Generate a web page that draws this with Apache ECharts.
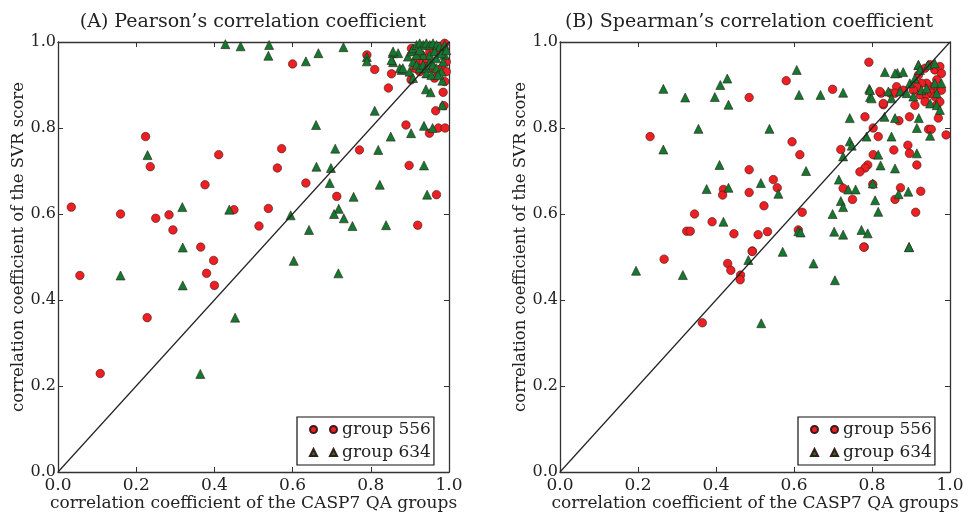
<!DOCTYPE html>
<html lang="en">
<head>
<meta charset="UTF-8">
<title>SVR score vs CASP7 QA groups</title>
<script src="https://cdn.jsdelivr.net/npm/echarts@6/dist/echarts.min.js"></script>
<style>
  html, body { margin: 0; padding: 0; background: #fff; }
  #chart { width: 972px; height: 513px; }
</style>
</head>
<body>
<div id="chart"></div>
<script type="text/javascript">
// (A) Pearson
var pearsonRed = [
    [0.034,0.616],[0.16,0.60],[0.224,0.78],[0.236,0.71],[0.25,0.59],[0.284,0.598],[0.294,0.563],
    [0.376,0.668],[0.411,0.738],[0.45,0.61],[0.514,0.572],[0.538,0.613],[0.561,0.707],[0.572,0.752],
    [0.60,0.949],[0.634,0.672],[0.713,0.641],[0.771,0.749],[0.79,0.97],[0.81,0.936],[0.845,0.893],
    [0.853,0.926],[0.89,0.807],[0.898,0.713],[0.92,0.574],[0.968,0.645],[0.95,0.788],[0.966,0.84],
    [0.985,0.883],[0.987,0.852],[0.973,0.80],[0.99,0.80],[0.903,0.912],
    [0.056,0.457],[0.108,0.229],[0.228,0.359],[0.365,0.523],[0.398,0.492],[0.38,0.462],[0.40,0.434],
    [0.904,0.985],[0.917,0.954],[0.934,0.954],[0.959,0.939],[0.972,0.931],[0.993,0.954],[0.976,0.978],
    [0.925,0.931],[0.981,0.939],[0.989,0.997],[0.951,0.978],[0.989,0.908],[0.942,0.962],[0.912,0.939],
    [0.963,0.916],[0.929,0.97],[0.993,0.931]
];
var pearsonGreen = [
    [0.428,0.995],[0.467,0.99],[0.54,0.993],[0.538,0.968],[0.634,0.955],[0.666,0.974],[0.73,0.988],
    [0.79,0.965],[0.79,0.955],[0.856,0.974],[0.87,0.974],[0.857,0.953],[0.879,0.935],[0.81,0.84],
    [0.66,0.807],[0.229,0.737],[0.318,0.616],[0.438,0.61],[0.595,0.597],[0.642,0.563],[0.661,0.71],
    [0.698,0.707],[0.709,0.752],[0.695,0.672],[0.718,0.612],[0.706,0.60],[0.731,0.59],[0.753,0.572],
    [0.756,0.64],[0.819,0.749],[0.823,0.668],[0.839,0.574],[0.851,0.78],[0.903,0.788],[0.936,0.805],
    [0.936,0.713],[0.944,0.645],[0.958,0.80],[0.941,0.89],[0.953,0.883],[0.983,0.91],[0.983,0.853],
    [0.16,0.457],[0.319,0.522],[0.319,0.434],[0.364,0.228],[0.453,0.359],[0.603,0.491],[0.717,0.462],
    [0.857,0.978],[0.853,0.958],[0.874,0.939],[0.882,0.939],[0.895,0.966],[0.904,0.978],[0.908,0.985],
    [0.917,0.993],[0.925,0.997],[0.934,0.993],[0.942,0.997],[0.951,0.993],[0.959,0.997],[0.968,0.993],
    [0.976,0.989],[0.908,0.954],[0.917,0.947],[0.925,0.939],[0.934,0.947],[0.942,0.939],[0.951,0.954],
    [0.959,0.947],[0.968,0.939],[0.981,0.931],[0.989,0.97],[0.985,0.954],[0.934,0.97],[0.951,0.97],
    [0.968,0.962],[0.942,0.927],[0.955,0.923],[0.972,0.923],[0.917,0.97],[0.925,0.981],[0.963,0.978],
    [0.981,0.974],[0.989,0.993],[0.993,0.981],[0.899,0.931],[0.908,0.916]
];

// (B) Spearman
var spearmanRed = [
    [0.231,0.78],[0.485,0.871],[0.58,0.91],[0.595,0.768],[0.615,0.738],[0.485,0.703],[0.547,0.68],
    [0.557,0.661],[0.419,0.657],[0.417,0.644],[0.485,0.65],[0.523,0.619],[0.345,0.60],[0.39,0.582],
    [0.325,0.56],[0.334,0.56],[0.446,0.554],[0.508,0.552],[0.532,0.559],[0.621,0.604],[0.611,0.563],
    [0.493,0.514],[0.699,0.89],[0.792,0.953],[0.72,0.75],[0.782,0.826],[0.803,0.80],[0.816,0.78],
    [0.823,0.881],[0.829,0.854],[0.847,0.881],[0.869,0.817],[0.896,0.826],[0.856,0.749],[0.892,0.76],
    [0.896,0.741],[0.915,0.714],[0.803,0.738],[0.789,0.714],[0.782,0.707],[0.769,0.698],[0.802,0.669],
    [0.726,0.66],[0.75,0.634],[0.859,0.634],[0.873,0.661],[0.925,0.653],[0.912,0.604],[0.99,0.784],
    [0.78,0.523],[0.945,0.797],[0.952,0.797],[0.966,0.854],[0.97,0.823],
    [0.267,0.495],[0.43,0.485],[0.438,0.469],[0.463,0.458],[0.462,0.447],[0.493,0.513],[0.365,0.347],
    [0.779,0.523],
    [0.919,0.923],[0.936,0.939],[0.949,0.947],[0.961,0.935],[0.974,0.943],[0.978,0.927],[0.966,0.912],
    [0.953,0.896],[0.94,0.904],[0.927,0.904],[0.914,0.896],[0.906,0.888],[0.923,0.877],[0.94,0.877],
    [0.953,0.881],[0.97,0.888],[0.961,0.873],[0.978,0.888],[0.936,0.861],[0.974,0.861],[0.82,0.885],
    [0.829,0.857],[0.863,0.896],[0.859,0.881],[0.88,0.888],[0.91,0.853]
];
var spearmanGreen = [
    [0.265,0.891],[0.265,0.75],[0.321,0.871],[0.355,0.798],[0.397,0.872],[0.411,0.90],[0.429,0.915],
    [0.432,0.854],[0.376,0.658],[0.409,0.714],[0.432,0.661],[0.419,0.582],[0.515,0.672],[0.537,0.798],
    [0.56,0.647],[0.607,0.935],[0.613,0.877],[0.631,0.70],[0.611,0.56],[0.617,0.557],[0.668,0.877],
    [0.726,0.882],[0.715,0.68],[0.699,0.60],[0.72,0.63],[0.726,0.616],[0.703,0.559],[0.726,0.552],
    [0.739,0.657],[0.758,0.657],[0.743,0.823],[0.743,0.769],[0.748,0.759],[0.726,0.734],[0.773,0.563],
    [0.789,0.555],[0.793,0.891],[0.795,0.872],[0.786,0.78],[0.808,0.632],[0.816,0.605],[0.816,0.738],
    [0.822,0.713],[0.802,0.671],[0.859,0.706],[0.85,0.78],[0.859,0.823],[0.832,0.826],[0.833,0.93],
    [0.865,0.928],[0.88,0.93],[0.868,0.646],[0.893,0.652],[0.895,0.523],[0.915,0.741],[0.919,0.946],
    [0.949,0.782],[0.915,0.80],[0.92,0.823],
    [0.195,0.468],[0.315,0.458],[0.483,0.493],[0.571,0.512],[0.65,0.485],[0.705,0.446],[0.516,0.346],
    [0.895,0.523],
    [0.859,0.927],[0.919,0.947],[0.944,0.947],[0.961,0.95],[0.795,0.888],[0.799,0.869],[0.842,0.885],
    [0.85,0.869],[0.872,0.885],[0.889,0.881],[0.906,0.873],[0.927,0.888],[0.94,0.892],[0.949,0.857],
    [0.961,0.904],[0.978,0.904],[0.966,0.853],[0.974,0.842],[0.923,0.935],[0.966,0.881],[0.897,0.904],
    [0.91,0.915]
];

var diagonal = [[0, 0], [1, 1]];
var tickInterval = 0.2;
var panelTitles = ["(A) Pearson\u2019s correlation coefficient", "(B) Spearman\u2019s correlation coefficient"];
var groupNames = ["group 556", "group 634"];
var xName = "correlation coefficient of the CASP7 QA groups";
var yName = "correlation coefficient of the SVR score";

var FONT = "DejaVu Serif";
var RED = "#ee1f23";
var GREEN = "#0f7a30";
var circlesIcon = "path://M0,3.5 A3.5,3.5 0 1,1 7,3.5 A3.5,3.5 0 1,1 0,3.5 Z M20,3.5 A3.5,3.5 0 1,1 27,3.5 A3.5,3.5 0 1,1 20,3.5 Z";
var trianglesIcon = "path://M0,7 L3.5,0 L7,7 Z M20,7 L23.5,0 L27,7 Z";

var grids = [
    {left: 58, top: 42, width: 391, height: 430, outerBoundsMode: 'none'},
    {left: 560, top: 42, width: 390, height: 430, outerBoundsMode: 'none'}
];

function mainAxis(gridIndex, isX) {
    return {
        type: 'value', gridIndex: gridIndex, min: 0, max: 1, interval: tickInterval,
        position: isX ? 'bottom' : 'left',
        name: isX ? xName : yName,
        nameLocation: 'middle',
        nameMoveOverlap: false,
        nameGap: isX ? 23 : 31,
        nameTextStyle: {
            fontFamily: FONT, fontSize: isX ? 17 : 16.5, color: '#222',
            padding: isX ? 0 : [0, 0, 0, 20]
        },
        axisLine: {show: true, onZero: false, lineStyle: {color: '#333', width: 1.3}},
        axisTick: {show: true, inside: true, length: 5, lineStyle: {color: '#333'}},
        axisLabel: {
            fontFamily: FONT, fontSize: isX ? 17 : 16, color: '#222', margin: isX ? 5 : 2,
            formatter: function (v) { return v.toFixed(1); }
        },
        splitLine: {show: false}
    };
}

function mirrorAxis(gridIndex, isX) {
    return {
        type: 'value', gridIndex: gridIndex, min: 0, max: 1, interval: tickInterval,
        position: isX ? 'top' : 'right',
        axisLine: {show: true, onZero: false, lineStyle: {color: '#333', width: 1.3}},
        axisTick: {show: true, inside: true, length: 5, lineStyle: {color: '#333'}},
        axisLabel: {show: false},
        splitLine: {show: false}
    };
}

function legendFor(left) {
    return {
        left: left, top: 417, orient: 'vertical',
        backgroundColor: '#fff', borderColor: '#111', borderWidth: 1.2, borderRadius: 0,
        padding: [4, 3, 4, 12], itemGap: 6, itemWidth: 27, itemHeight: 7,
        selectedMode: false,
        textStyle: {fontFamily: FONT, fontSize: 17, color: '#222'},
        data: [
            {name: groupNames[0], icon: circlesIcon},
            {name: groupNames[1], icon: trianglesIcon}
        ]
    };
}

function scatter(name, data, idx, isRed) {
    return {
        name: name, type: 'scatter', xAxisIndex: idx, yAxisIndex: idx, data: data,
        symbol: isRed ? 'circle' : 'triangle',
        symbolSize: isRed ? 8.5 : 9,
        itemStyle: {color: isRed ? RED : GREEN, borderColor: '#3a1a1a', borderWidth: 0.6, opacity: 1},
        z: isRed ? 2 : 3,
        silent: true
    };
}

function diag(idx) {
    return {
        type: 'line', xAxisIndex: idx, yAxisIndex: idx, data: diagonal,
        showSymbol: false, symbol: 'none', silent: true,
        lineStyle: {color: '#222', width: 1.2}, z: 4
    };
}

var chart = echarts.init(document.getElementById('chart'));
chart.setOption({
    animation: false,
    backgroundColor: '#fff',
    grid: grids,
    xAxis: [mainAxis(0, true), mainAxis(1, true), mirrorAxis(0, true), mirrorAxis(1, true)],
    yAxis: [mainAxis(0, false), mainAxis(1, false), mirrorAxis(0, false), mirrorAxis(1, false)],
    legend: [legendFor(297), legendFor(798)],
    graphic: [
        {type: 'text', x: 253, y: 22, style: {text: panelTitles[0], font: '19px "DejaVu Serif"', fill: '#222', textAlign: 'center', textVerticalAlign: 'middle'}},
        {type: 'text', x: 749, y: 22, style: {text: panelTitles[1], font: '19px "DejaVu Serif"', fill: '#222', textAlign: 'center', textVerticalAlign: 'middle'}}
    ],
    series: [
        scatter(groupNames[0], pearsonRed, 0, true),
        scatter(groupNames[1], pearsonGreen, 0, false),
        diag(0),
        scatter(groupNames[0], spearmanRed, 1, true),
        scatter(groupNames[1], spearmanGreen, 1, false),
        diag(1)
    ]
});
</script>
</body>
</html>
